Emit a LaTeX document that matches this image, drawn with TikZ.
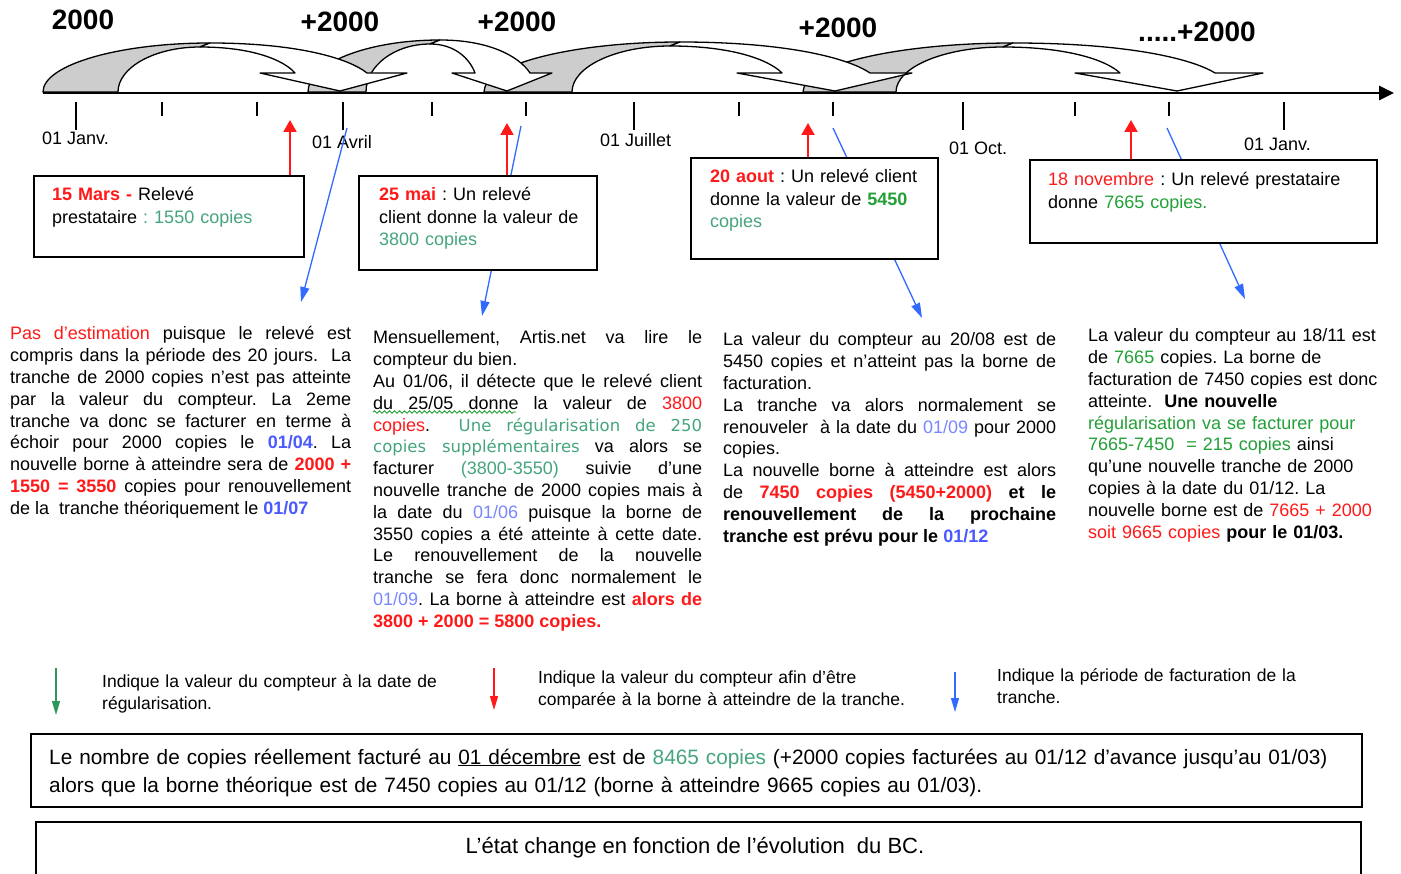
\documentclass[tikz,border=0pt]{standalone}
\usepackage{fontspec}
\setmainfont{Liberation Sans}
\newfontfamily\widefont{DejaVu Sans}
\usetikzlibrary{arrows.meta,decorations.pathmorphing}

\definecolor{txtred}{RGB}{255,25,25}
\definecolor{txtteal}{RGB}{70,165,125}
\definecolor{txtgreen}{RGB}{35,160,55}
\definecolor{txtblue}{RGB}{75,90,255}
\definecolor{lightblue}{RGB}{120,135,255}
\definecolor{arrblue}{RGB}{50,105,255}
\definecolor{arrgreen}{RGB}{45,150,90}
\definecolor{bandgray}{RGB}{205,205,205}

\hyphenpenalty=10000
\frenchspacing

\newcommand{\cRed}[1]{\textcolor{txtred}{#1}}
\newcommand{\cRedB}[1]{\textcolor{txtred}{\bfseries #1}}
\newcommand{\cGreen}[1]{\textcolor{txtgreen}{#1}}
\newcommand{\cTeal}[1]{\textcolor{txtteal}{#1}}
\newcommand{\cTealW}[1]{\textcolor{txtteal}{\widefont\fontsize{16.5}{21.8}\selectfont #1}}
\newcommand{\cBlueB}[1]{\textcolor{txtblue}{\bfseries #1}}
\newcommand{\cLBlue}[1]{\textcolor{lightblue}{#1}}

\tikzset{
  band/.style={draw=black, line width=1.3, line join=round},
  infobox/.style={draw=black, line width=1.8, fill=white, inner sep=0, anchor=north west},
  boxtext/.style={inner sep=0, anchor=base west, text width=330, align=left, font=\fontsize{18}{22.5}\selectfont},
  coltext/.style={inner sep=0, anchor=base west, align=justify, font=\fontsize{18}{21.8}\selectfont},
  ticklabel/.style={inner sep=0, anchor=west, font=\fontsize{18}{20}\selectfont},
  amount/.style={inner sep=0, font=\fontsize{28}{30}\selectfont\bfseries},
  readup/.style={txtred, line width=2, -{Triangle[length=12pt,width=13pt]}},
  period/.style={arrblue, line width=1.3, -{Triangle[length=15pt,width=9pt]}},
  keyarrow/.style={line width=1.3, -{Triangle[length=14pt,width=8pt]}},
  keytext/.style={inner sep=0, anchor=base west, text width=400, align=left, font=\fontsize{17.5}{22.5}\selectfont},
}

\begin{document}
\begin{tikzpicture}[x=1pt, y=-1pt]
    \fill[white] (0,0) rectangle (1401,874);
    \useasboundingbox (0,0) rectangle (1401,874);

    % tranches of 2000 copies, last one drawn first
    \foreach \xo/\w/\ax/\ay/\tp/\li/\ri/\lw/\rw in
        {803/93/1013/43/1177/1120/1215/1075/1263,
         484/88/680/42/835/782/870/737/912,
         308/58/440/40/507/475/530/452/552,
         43/75/210/43/340/295/367/260/407}
    {
        \pgfmathsetmacro\ix{\ax-10}
        \pgfmathsetmacro\iy{\ay+4}
        \filldraw[band, fill=bandgray] (\xo,92)
            .. controls (\xo,{92-0.55*(92-\ay)}) and ({\ax-0.55*(\ax-\xo)},\ay) .. (\ax,\ay)
            -- (\ix,\iy)
            .. controls ({\ix-0.55*(\ix-\xo-\w)},\iy) and ({\xo+\w},{92-0.55*(92-\iy)}) .. ({\xo+\w},92)
            -- cycle;
        \filldraw[band, fill=white] (\ax,\ay)
            .. controls ({\ax+0.55*(\ri-\ax)},\ay) and ({\ri-0.12*(\ri-\ax)},{\ay+0.5*(73-\ay)}) .. (\ri,73)
            -- (\rw,73) -- (\tp,91) -- (\lw,73) -- (\li,73)
            .. controls ({\li-0.12*(\li-\ix)},{\iy+0.5*(73-\iy)}) and ({\ix+0.55*(\li-\ix)},\iy) .. (\ix,\iy)
            -- cycle;
    }

    \node[amount] (n0) at (83,20) {2000};
    \node[amount] (n1) at (340,22) {+2000};
    \node[amount] (n2) at (517,22) {+2000};
    \node[amount] (n3) at (838,28) {+2000};
    \node[amount] (n4) at (1197,32) {.....+2000};

    % time axis
    \draw[line width=2.6, -{Triangle[length=15pt,width=14pt]}] (43,93) -- (1394,93);
    \foreach \x in {76,343,634,963,1284}
        {\draw[line width=2.6] (\x,102) -- (\x,130);}
    \foreach \x in {162,257,432,526,739,833,1075,1169}
        {\draw[line width=1.4] (\x,102) -- (\x,116);}
    \node[ticklabel] (jan) at (42,138) {01 Janv.};
    \node[ticklabel] (avr) at (312,142) {01 Avril};
    \node[ticklabel] (jul) at (600,140) {01 Juillet};
    \node[ticklabel] (oct) at (949,148) {01 Oct.};
    \node[ticklabel] (jan2) at (1244,144) {01 Janv.};

    % billing periods
    \coordinate (p1) at (347,128);  \coordinate (q1) at (301,302);
    \coordinate (p2) at (521,126);  \coordinate (q2) at (482,316);
    \coordinate (p3) at (833,128);  \coordinate (q3) at (922,318);
    \coordinate (p4) at (1167,128); \coordinate (q4) at (1245,299);
    \foreach \i in {1,...,4}
        {\draw[period] (p\i) -- (q\i);}

    % readings
    \node[infobox, minimum width=270, minimum height=81] (b1) at (33,175) {};
    \node[boxtext] (t1) at ([shift={(19,26)}]b1.north west)
        {\cRedB{15 Mars -} Relevé\\prestataire \cTeal{: 1550 copies}};
    \node[infobox, minimum width=238, minimum height=94] (b2) at (358,175) {};
    \node[boxtext] (t2) at ([shift={(21,26)}]b2.north west)
        {\cRedB{25 mai} : Un relevé\\client donne la valeur de\\\cTeal{3800 copies}};
    \node[infobox, minimum width=247, minimum height=101] (b3) at (690,157) {};
    \node[boxtext] (t3) at ([shift={(20,26)}]b3.north west)
        {\cRedB{20 aout} : Un relevé client\\donne la valeur de \textcolor{txtgreen}{\bfseries 5450}\\\cTeal{copies}};
    \node[infobox, minimum width=347, minimum height=83] (b4) at (1029,159) {};
    \node[boxtext] (t4) at ([shift={(19,27)}]b4.north west)
        {\cRed{18 novembre} : Un relevé prestataire\\donne \cGreen{7665 copies.}};

    \coordinate (r1) at (290,120);
    \coordinate (r2) at (507,123);
    \coordinate (r3) at (808,123);
    \coordinate (r4) at (1131,120);
    \foreach \i in {1,...,4}
        {\draw[readup] (b\i.north -| r\i) -- (r\i);}

    % explanations
    \node[coltext, text width=341] (c1) at (10,340) {%
        \cRed{Pas d'estimation} puisque le relevé est\linebreak
        compris dans la période des 20 jours. \ La\linebreak
        tranche de 2000 copies n'est pas atteinte\linebreak
        par la valeur du compteur. La 2eme\linebreak
        tranche va donc se facturer en terme à\linebreak
        échoir pour 2000 copies le \cBlueB{01/04}. La\linebreak
        nouvelle borne à atteindre sera de \cRedB{2000 +}\linebreak
        \cRedB{1550 = 3550} copies pour renouvellement\linebreak
        de la \ tranche théoriquement le \cBlueB{01/07}};

    \node[coltext, text width=329] (c2) at (373,344) {%
        Mensuellement, Artis.net va lire le\linebreak
        compteur du bien.\\
        Au 01/06, il détecte que le relevé client\linebreak
        du 25/05 donne la valeur de \cRed{3800}\linebreak
        \cRed{copies}. \ \cTealW{Une régularisation de 250}\linebreak
        \cTealW{copies supplémentaires} va alors se\linebreak
        facturer \cTeal{(3800-3550)} suivie d'une\linebreak
        nouvelle tranche de 2000 copies mais à\linebreak
        la date du \cLBlue{01/06} puisque la borne de\linebreak
        3550 copies a été atteinte à cette date.\linebreak
        Le renouvellement de la nouvelle\linebreak
        tranche se fera donc normalement le\linebreak
        \cLBlue{01/09}. La borne à atteindre est \cRedB{alors de}\linebreak
        \cRedB{3800 + 2000 = 5800 copies.}};
    \draw[txtgreen, line width=0.9, decorate,
          decoration={snake, amplitude=1.2pt, segment length=5pt}] (373,412) -- (516,412);

    \node[coltext, text width=333] (c3) at (723,346) {%
        La valeur du compteur au 20/08 est de\linebreak
        5450 copies et n'atteint pas la borne de\linebreak
        facturation.\\
        La tranche va alors normalement se\linebreak
        renouveler \ à la date du \cLBlue{01/09} pour 2000\linebreak
        copies.\\
        La nouvelle borne à atteindre est alors\linebreak
        de \cRedB{7450 copies (5450+2000)} \textbf{et le}\linebreak
        \textbf{renouvellement de la prochaine}\linebreak
        \textbf{tranche est prévu pour le \cBlueB{01/12}}};

    \node[coltext, text width=300, align=left] (c4) at (1088,342) {%
        La valeur du compteur au 18/11 est\\
        de \cGreen{7665} copies. La borne de\\
        facturation de 7450 copies est donc\\
        atteinte. \ \textbf{Une nouvelle}\\
        \cGreen{régularisation va se facturer pour}\\
        \cGreen{7665-7450 \ = 215 copies} ainsi\\
        qu'une nouvelle tranche de 2000\\
        copies à la date du 01/12. La\\
        nouvelle borne est de \cRed{7665 + 2000}\\
        \cRed{soit 9665 copies} \textbf{pour le 01/03.}};

    % key
    \coordinate (k1) at (56,668);  \coordinate (k1e) at (56,715);
    \coordinate (k2) at (494,668); \coordinate (k2e) at (494,710);
    \coordinate (k3) at (955,672); \coordinate (k3e) at (955,712);
    \draw[keyarrow, arrgreen] (k1) -- (k1e);
    \draw[keyarrow, txtred] (k2) -- (k2e);
    \draw[keyarrow, arrblue] (k3) -- (k3e);
    \node[keytext] (kt1) at (102,687) {Indique la valeur du compteur à la date de\\régularisation.};
    \node[keytext] (kt2) at (538,683) {Indique la valeur du compteur afin d'être\\comparée à la borne à atteindre de la tranche.};
    \node[keytext] (kt3) at (997,681) {Indique la période de facturation de la\\tranche.};

    % summary
    \node[infobox, line width=2.2, minimum width=1331, minimum height=73] (sum) at (30,733) {};
    \node[inner sep=0, anchor=base west, text width=1330, align=left, font=\fontsize{20.8}{28}\selectfont] (sumtext) at (49,764)
        {Le nombre de copies réellement facturé au \underline{01 décembre} est de \cTeal{8465 copies} (+2000 copies facturées au 01/12 d'avance jusqu'au 01/03)\\
         alors que la borne théorique est de 7450 copies au 01/12 (borne à atteindre 9665 copies au 01/03).};

    \draw[line width=2.2] (36,880) |- (1361,822) -- (1361,880);
    \node[inner sep=0, anchor=base, font=\fontsize{22}{26}\selectfont] (state) at (695,853)
        {L'état change en fonction de l'évolution \ du BC.};
\end{tikzpicture}
\end{document}
